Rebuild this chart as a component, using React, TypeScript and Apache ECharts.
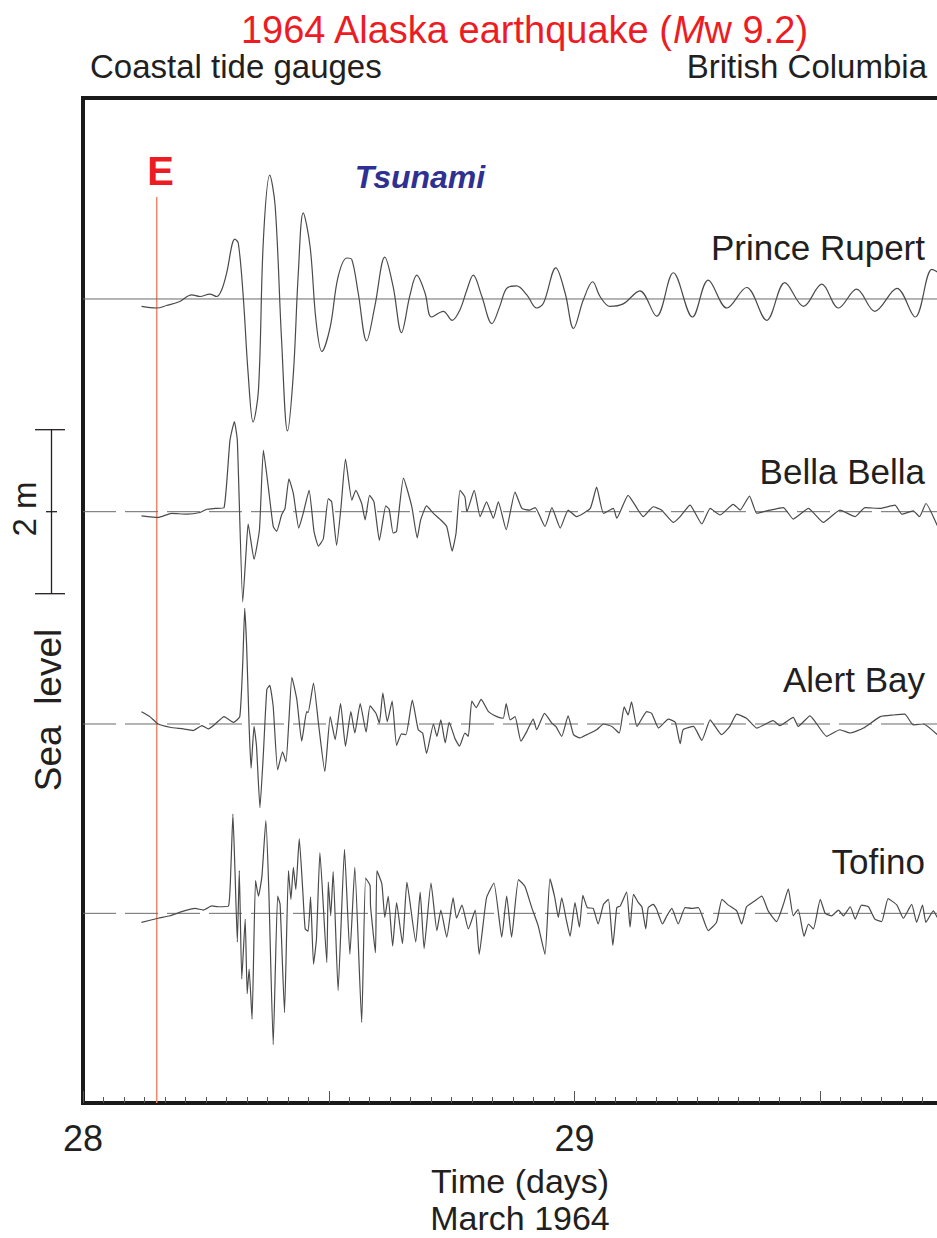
import React, { useEffect, useRef } from 'react';
import * as echarts from 'echarts';

const FONT = '"Liberation Sans", Arial, Helvetica, sans-serif';
const TEXT = '#231f20';

// Time axis (days of March 1964, UTC)
const X_MIN = 28;
const X_MAX = 29.7375;
const EARTHQUAKE_TIME = 28.15;
const E_LINE_TOP = 11.05;
const Y_MAX = 12.256;

// Stations and their vertical display offsets (m)
const STATIONS = ['Prince Rupert', 'Bella Bella', 'Alert Bay', 'Tofino'];
const STATION_OFFSETS = [9.805, 7.211, 4.622, 2.313];

// Sea level anomaly (m) vs time (days)
const princeRupert: [number, number][] = [
  [28.119, -0.09], [28.15, -0.11], [28.17, -0.08], [28.197, -0.03], [28.221, 0.05], [28.238, 0.03], [28.258, 0.06],
  [28.272, 0.03], [28.282, 0.11], [28.292, 0.31], [28.309, 0.73], [28.316, 0.68], [28.326, 0.03], [28.336, -0.91],
  [28.346, -1.5], [28.357, -1.11], [28.367, 0.72], [28.38, 1.51], [28.391, 1.13], [28.404, -0.5], [28.416, -1.61],
  [28.428, -0.91], [28.438, 0.31], [28.448, 1.05], [28.462, 0.64], [28.474, -0.26], [28.486, -0.64], [28.503, -0.34],
  [28.519, 0.27], [28.537, 0.5], [28.547, 0.48], [28.56, 0.07], [28.577, -0.51], [28.594, -0.08], [28.614, 0.51],
  [28.631, 0.15], [28.648, -0.41], [28.665, 0.04], [28.679, 0.29], [28.696, 0.07], [28.709, -0.22], [28.733, -0.15],
  [28.751, -0.26], [28.767, -0.13], [28.781, 0.11], [28.794, 0.29], [28.811, 0.04], [28.832, -0.3], [28.848, -0.09],
  [28.862, 0.13], [28.882, 0.16], [28.903, 0.05], [28.923, -0.11], [28.937, -0.05], [28.962, 0.38], [28.981, 0.07],
  [28.998, -0.36], [29.018, -0.01], [29.037, 0.21], [29.052, 0.03], [29.072, -0.09], [29.099, -0.06], [29.133, 0.1],
  [29.167, -0.21], [29.201, 0.32], [29.24, -0.22], [29.272, 0.23], [29.31, -0.11], [29.35, 0.14], [29.391, -0.26],
  [29.428, 0.2], [29.466, -0.09], [29.503, 0.18], [29.537, -0.11], [29.574, 0.12], [29.611, -0.15], [29.656, 0.13],
  [29.693, -0.22], [29.727, 0.36], [29.738, 0.33],
];

const bellaBella: [number, number][] = [
  [28.119, -0.05], [28.153, -0.07], [28.18, -0.02], [28.211, -0.03], [28.238, -0.01], [28.252, 0.03], [28.269, 0.04],
  [28.287, 0.05], [28.299, 0.87], [28.308, 1.1], [28.314, 0.87], [28.325, -1.1], [28.332, -0.47], [28.336, -0.15],
  [28.348, -0.58], [28.359, -0.22], [28.367, 0.75], [28.377, 0.3], [28.387, -0.18], [28.394, -0.24], [28.404, -0.04],
  [28.411, 0.04], [28.419, 0.4], [28.428, 0.22], [28.439, -0.2], [28.448, -0.02], [28.46, 0.26], [28.47, -0.24],
  [28.479, -0.42], [28.489, -0.33], [28.499, 0.16], [28.506, 0.12], [28.516, -0.41], [28.525, 0.06], [28.534, 0.64],
  [28.547, 0.14], [28.555, 0.26], [28.567, 0.1], [28.574, -0.1], [28.583, 0.2], [28.592, 0.12], [28.603, -0.35],
  [28.616, 0.07], [28.623, 0.03], [28.631, -0.26], [28.638, -0.24], [28.652, 0.41], [28.669, 0.06], [28.68, -0.32],
  [28.687, -0.1], [28.699, 0.07], [28.713, -0.02], [28.726, -0.09], [28.74, -0.18], [28.751, -0.48], [28.759, -0.26],
  [28.767, 0.26], [28.777, 0.18], [28.781, 0.0], [28.796, 0.26], [28.808, -0.06], [28.821, 0.12], [28.835, -0.08],
  [28.845, 0.12], [28.861, -0.22], [28.879, 0.24], [28.893, 0.04], [28.909, 0.02], [28.92, 0.05], [28.94, -0.18],
  [28.954, 0.05], [28.971, -0.2], [28.987, 0.02], [29.004, -0.06], [29.032, 0.04], [29.045, 0.3], [29.059, -0.02],
  [29.079, 0.04], [29.086, -0.08], [29.109, 0.2], [29.14, -0.06], [29.16, 0.06], [29.177, 0.02], [29.201, -0.13],
  [29.215, -0.06], [29.235, 0.08], [29.259, -0.15], [29.276, 0.04], [29.296, -0.04], [29.323, 0.09], [29.337, 0.02],
  [29.356, 0.19], [29.371, -0.02], [29.398, 0.02], [29.425, 0.05], [29.445, -0.09], [29.476, 0.04], [29.506, -0.13],
  [29.54, 0.02], [29.571, -0.06], [29.591, 0.05], [29.622, 0.04], [29.652, 0.08], [29.666, -0.03], [29.689, 0.01],
  [29.702, -0.06], [29.715, 0.1], [29.738, -0.17],
];

const alertBay: [number, number][] = [
  [28.119, 0.15], [28.136, 0.09], [28.153, 0.0], [28.177, -0.04], [28.204, -0.06], [28.224, -0.08], [28.242, -0.02],
  [28.255, -0.06], [28.269, 0.0], [28.287, 0.09], [28.306, 0.02], [28.319, 0.09], [28.325, 0.74], [28.329, 1.41],
  [28.333, 0.94], [28.338, -0.03], [28.342, -0.54], [28.348, -0.03], [28.353, -0.27], [28.36, -1.02], [28.367, -0.36],
  [28.374, 0.42], [28.38, 0.47], [28.387, 0.21], [28.396, -0.56], [28.406, -0.34], [28.413, -0.46], [28.419, 0.05],
  [28.425, 0.57], [28.435, 0.3], [28.445, -0.21], [28.455, 0.15], [28.458, 0.14], [28.469, 0.5], [28.479, 0.01],
  [28.492, -0.58], [28.503, 0.09], [28.513, -0.19], [28.524, 0.25], [28.534, -0.27], [28.545, 0.15], [28.553, -0.11],
  [28.564, 0.25], [28.576, -0.1], [28.584, 0.22], [28.596, 0.13], [28.603, 0.01], [28.61, 0.38], [28.619, 0.03],
  [28.629, 0.28], [28.638, -0.26], [28.648, -0.12], [28.657, -0.13], [28.67, 0.29], [28.682, -0.07], [28.691, -0.11],
  [28.699, -0.36], [28.713, 0.0], [28.72, -0.15], [28.728, 0.05], [28.737, -0.23], [28.745, 0.02], [28.757, -0.18],
  [28.766, -0.27], [28.777, -0.11], [28.784, -0.15], [28.791, 0.28], [28.8, 0.2], [28.81, 0.3], [28.825, 0.15],
  [28.842, 0.09], [28.855, 0.07], [28.861, 0.25], [28.869, 0.05], [28.879, 0.09], [28.891, -0.21], [28.903, -0.09],
  [28.916, 0.06], [28.923, -0.07], [28.939, 0.13], [28.954, 0.01], [28.962, -0.03], [28.974, -0.15], [28.987, 0.1],
  [28.998, -0.13], [29.011, -0.17], [29.025, -0.13], [29.045, -0.07], [29.059, 0.0], [29.076, -0.03], [29.091, -0.11],
  [29.101, 0.21], [29.109, 0.11], [29.116, 0.27], [29.127, -0.03], [29.147, 0.15], [29.157, 0.13], [29.171, -0.05],
  [29.191, 0.06], [29.205, 0.02], [29.215, -0.24], [29.221, -0.07], [29.242, -0.03], [29.259, -0.2], [29.276, 0.05],
  [29.286, -0.03], [29.299, -0.13], [29.316, -0.03], [29.33, 0.12], [29.35, 0.07], [29.371, -0.05], [29.404, 0.04],
  [29.418, -0.02], [29.445, 0.08], [29.455, -0.03], [29.479, 0.1], [29.513, -0.15], [29.54, -0.07], [29.561, -0.11],
  [29.588, -0.05], [29.622, 0.09], [29.649, 0.11], [29.672, 0.12], [29.689, -0.01], [29.71, 0.0], [29.738, -0.13],
];

const tofino: [number, number][] = [
  [28.119, -0.11], [28.153, -0.06], [28.177, -0.03], [28.201, 0.02], [28.228, 0.06], [28.245, 0.04], [28.262, 0.09],
  [28.275, 0.08], [28.296, 0.09], [28.301, 0.58], [28.305, 1.21], [28.309, 0.56], [28.314, -0.35], [28.318, 0.52],
  [28.323, -0.8], [28.33, -0.07], [28.334, -0.98], [28.338, -0.68], [28.344, -1.29], [28.351, 0.4], [28.357, 0.21],
  [28.364, 0.45], [28.372, 1.13], [28.378, 0.29], [28.387, -1.6], [28.396, 0.21], [28.401, 0.11], [28.41, -1.21],
  [28.418, 0.52], [28.423, 0.17], [28.428, 0.56], [28.433, 0.29], [28.44, 0.91], [28.447, 0.29], [28.452, -0.19],
  [28.458, -0.22], [28.463, 0.2], [28.469, -0.62], [28.475, -0.31], [28.482, 0.74], [28.496, -0.6], [28.499, 0.38],
  [28.504, -0.03], [28.509, 0.51], [28.519, -0.94], [28.532, 0.78], [28.543, -0.5], [28.553, 0.56], [28.567, -1.33],
  [28.575, 0.43], [28.584, 0.34], [28.585, 0.09], [28.595, -0.48], [28.598, 0.52], [28.608, 0.36], [28.614, -0.05],
  [28.621, 0.21], [28.63, -0.4], [28.638, 0.13], [28.65, -0.37], [28.659, 0.38], [28.677, -0.35], [28.686, 0.26],
  [28.694, -0.43], [28.708, 0.37], [28.72, -0.21], [28.728, 0.04], [28.74, -0.29], [28.753, 0.19], [28.76, -0.06],
  [28.771, 0.1], [28.784, -0.19], [28.798, 0.04], [28.806, -0.5], [28.821, 0.19], [28.836, 0.37], [28.852, -0.29],
  [28.862, 0.21], [28.872, -0.29], [28.886, 0.41], [28.899, 0.33], [28.913, 0.07], [28.926, -0.15], [28.94, -0.5],
  [28.95, 0.42], [28.96, 0.19], [28.967, -0.05], [28.974, 0.19], [28.983, -0.07], [28.991, -0.28], [29.001, 0.13],
  [29.01, -0.17], [29.017, 0.22], [29.026, 0.07], [29.038, 0.06], [29.048, -0.13], [29.059, 0.11], [29.069, 0.17],
  [29.078, -0.39], [29.086, 0.07], [29.093, 0.09], [29.106, 0.26], [29.113, -0.17], [29.12, 0.23], [29.13, 0.13],
  [29.137, 0.08], [29.145, -0.19], [29.15, 0.07], [29.16, 0.11], [29.167, 0.05], [29.179, -0.13], [29.188, -0.03],
  [29.198, 0.06], [29.211, -0.13], [29.225, 0.07], [29.238, 0.06], [29.252, 0.07], [29.272, -0.21], [29.289, -0.11],
  [29.3, 0.17], [29.313, 0.1], [29.33, 0.03], [29.34, -0.13], [29.35, 0.08], [29.364, 0.14], [29.381, 0.21],
  [29.394, 0.03], [29.411, -0.1], [29.425, 0.11], [29.435, 0.3], [29.445, -0.03], [29.455, 0.05], [29.467, -0.28],
  [29.476, -0.13], [29.486, -0.19], [29.5, 0.17], [29.51, 0.0], [29.523, -0.03], [29.537, 0.04], [29.547, -0.03],
  [29.561, 0.08], [29.571, -0.07], [29.584, 0.1], [29.598, 0.08], [29.611, -0.07], [29.625, -0.1], [29.638, 0.18],
  [29.656, 0.1], [29.669, -0.06], [29.686, 0.11], [29.696, -0.11], [29.708, 0.1], [29.715, -0.11], [29.73, 0.03],
  [29.738, -0.05],
];

const TRACES = [princeRupert, bellaBella, alertBay, tofino];

export default function App() {
  const ref = useRef<HTMLDivElement>(null);

  useEffect(() => {
    if (!ref.current) return;
    const chart = echarts.init(ref.current, null, { renderer: 'svg', width: 937, height: 1238 });

    const traceSeries = TRACES.map((d, i) => ({
      type: 'line',
      name: STATIONS[i],
      data: d.map(([t, v]) => [t, v + STATION_OFFSETS[i]]),
      showSymbol: false,
      symbol: 'none',
      smooth: i === 0 ? 0.35 : 0.15,
      silent: true,
      z: 4,
      lineStyle: { color: '#4a4a4a', width: 1.2 },
    }));

    const baselineSeries = STATION_OFFSETS.map((off, i) => ({
      type: 'line',
      name: STATIONS[i] + ' baseline',
      data: [[X_MIN, off], [X_MAX, off]],
      showSymbol: false,
      symbol: 'none',
      silent: true,
      z: 3,
      lineStyle: { color: '#6a6a6a', width: 1, type: i === 0 ? 'solid' : [33, 9] },
    }));

    const eSeries = {
      type: 'line',
      name: 'E',
      data: [[EARTHQUAKE_TIME, 0], [EARTHQUAKE_TIME, E_LINE_TOP]],
      showSymbol: false,
      symbol: 'none',
      silent: true,
      z: 2,
      lineStyle: { color: '#f4866b', width: 1.5 },
    };

    const frameLine = { color: '#1a1a1a', width: 4, cap: 'square' };

    chart.setOption({
      animation: false,
      grid: { left: 83, right: 0, top: 98, bottom: 135, containLabel: false },
      xAxis: [
        {
          type: 'value',
          min: X_MIN,
          max: X_MAX,
          interval: 0.5,
          position: 'bottom',
          axisLine: { show: true, onZero: false, lineStyle: frameLine },
          axisTick: { show: true, inside: true, length: 12, lineStyle: { color: '#555', width: 1 } },
          minorTick: { show: true, splitNumber: 12, length: 6, lineStyle: { color: '#555', width: 1 } },
          splitLine: { show: false },
          minorSplitLine: { show: false },
          axisLabel: {
            show: true,
            margin: 17,
            fontSize: 36,
            fontFamily: FONT,
            color: TEXT,
            showMinLabel: true,
            showMaxLabel: false,
            formatter: (v: number) => (Math.abs(v - Math.round(v)) < 1e-6 ? String(Math.round(v)) : ''),
          },
        },
        {
          type: 'value',
          min: X_MIN,
          max: X_MAX,
          position: 'top',
          axisLine: { show: true, onZero: false, lineStyle: frameLine },
          axisTick: { show: false },
          axisLabel: { show: false },
          splitLine: { show: false },
        },
      ],
      yAxis: {
        type: 'value',
        min: 0,
        max: Y_MAX,
        axisLine: { show: true, onZero: false, lineStyle: frameLine },
        axisTick: { show: false },
        axisLabel: { show: false },
        splitLine: { show: false },
      },
      series: [eSeries, ...baselineSeries, ...traceSeries],
    });

    // Scale bar: 2 m centered on the Bella Bella baseline
    const px = (v: number) => chart.convertToPixel({ xAxisIndex: 0, yAxisIndex: 0 }, [X_MIN, v])[1];
    const yTop = px(STATION_OFFSETS[1] + 1);
    const yMid = px(STATION_OFFSETS[1]);
    const yBot = px(STATION_OFFSETS[1] - 1);
    const barStyle = { stroke: '#231f20', lineWidth: 1.3 };

    const labelY = [247, 471, 679, 861];

    chart.setOption({
      graphic: [
        {
          type: 'text',
          x: 524,
          y: 30,
          style: {
            text: '{a|1964 Alaska earthquake (}{b|M}{a|w 9.2)}',
            align: 'center',
            verticalAlign: 'middle',
            rich: {
              a: { fontSize: 38, fontFamily: FONT, fill: '#ed1c24' },
              b: { fontSize: 38, fontFamily: FONT, fill: '#ed1c24', fontStyle: 'italic' },
            },
          },
        },
        {
          type: 'text',
          x: 90,
          y: 66,
          style: { text: 'Coastal tide gauges', fontSize: 33, fontFamily: FONT, fill: TEXT, align: 'left', verticalAlign: 'middle' },
        },
        {
          type: 'text',
          x: 927,
          y: 66,
          style: { text: 'British Columbia', fontSize: 33, fontFamily: FONT, fill: TEXT, align: 'right', verticalAlign: 'middle' },
        },
        {
          type: 'text',
          x: 160.5,
          y: 171,
          style: { text: 'E', fontSize: 40, fontWeight: 'bold', fontFamily: FONT, fill: '#ed1c24', align: 'center', verticalAlign: 'middle' },
        },
        {
          type: 'text',
          x: 420,
          y: 177,
          style: {
            text: 'Tsunami',
            fontSize: 32,
            fontWeight: 'bold',
            fontStyle: 'italic',
            fontFamily: FONT,
            fill: '#2e3192',
            align: 'center',
            verticalAlign: 'middle',
          },
        },
        ...STATIONS.map((name, i) => ({
          type: 'text',
          x: 925,
          y: labelY[i],
          style: { text: name, fontSize: 35, fontFamily: FONT, fill: TEXT, align: 'right', verticalAlign: 'middle' },
        })),
        {
          type: 'text',
          x: 48,
          y: 710,
          rotation: Math.PI / 2,
          style: { text: 'Sea  level', fontSize: 37, fontFamily: FONT, fill: TEXT, align: 'center', verticalAlign: 'middle' },
        },
        {
          type: 'text',
          x: 24,
          y: 509,
          rotation: Math.PI / 2,
          style: { text: '2 m', fontSize: 33, fontFamily: FONT, fill: TEXT, align: 'center', verticalAlign: 'middle' },
        },
        { type: 'line', shape: { x1: 51.5, y1: yTop, x2: 51.5, y2: yBot }, style: barStyle },
        { type: 'line', shape: { x1: 35, y1: yTop, x2: 65, y2: yTop }, style: barStyle },
        { type: 'line', shape: { x1: 46, y1: yMid, x2: 57, y2: yMid }, style: barStyle },
        { type: 'line', shape: { x1: 35, y1: yBot, x2: 65, y2: yBot }, style: barStyle },
        {
          type: 'text',
          x: 520,
          y: 1181,
          style: { text: 'Time (days)', fontSize: 34, fontFamily: FONT, fill: TEXT, align: 'center', verticalAlign: 'middle' },
        },
        {
          type: 'text',
          x: 520,
          y: 1218,
          style: { text: 'March 1964', fontSize: 34, fontFamily: FONT, fill: TEXT, align: 'center', verticalAlign: 'middle' },
        },
      ],
    });

    return () => chart.dispose();
  }, []);

  return <div ref={ref} style={{ position: 'fixed', left: 0, top: 0, width: 937, height: 1238, background: '#fff' }} />;
}
